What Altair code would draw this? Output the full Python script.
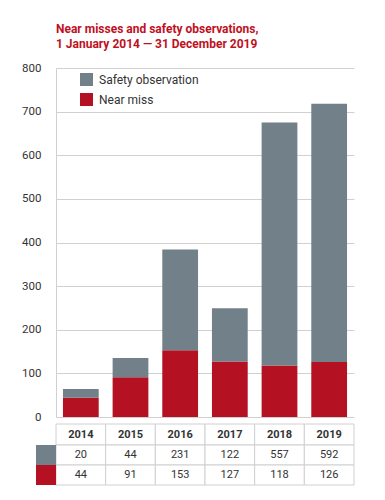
import altair as alt
import pandas as pd

years = ["2014", "2015", "2016", "2017", "2018", "2019"]
safety = [20, 44, 231, 122, 557, 592]
near = [44, 91, 153, 127, 118, 126]
series = ["Safety observation", "Near miss"]
y_ticks = [0, 100, 200, 300, 400, 500, 600, 700, 800]
title_lines = ["Near misses and safety observations,", "1 January 2014 \u2014 31 December 2019"]

GRAY = "#72808a"
RED = "#b41222"
TITLE_RED = "#c0101e"
LINE = "#d0d0d0"
FONT = "Roboto"
W, H = 298, 349

long_rows = []
for y, s, n in zip(years, safety, near):
    long_rows.append({"year": y, "series": "Near miss", "value": n, "ord": 0})
    long_rows.append({"year": y, "series": "Safety observation", "value": s, "ord": 1})
long_df = pd.DataFrame(long_rows)
wide_df = pd.DataFrame({"year": years, "safety": safety, "near": near})

xscale = alt.Scale(domain=years, paddingInner=0, paddingOuter=0)
x_enc = alt.X("year:N", scale=xscale, axis=None)

bars = alt.Chart(long_df).mark_bar(width=alt.RelativeBandSize(0.72)).encode(
    x=x_enc,
    y=alt.Y("value:Q", stack="zero",
            scale=alt.Scale(domain=[0, 800], nice=False),
            axis=alt.Axis(values=y_ticks, title=None, grid=True, gridColor=LINE,
                          domain=True, domainColor=LINE, ticks=False, tickSize=0,
                          labelPadding=15, labelFontSize=11.5, labelColor="#333",
                          labelFont=FONT)),
    color=alt.Color("series:N", scale=alt.Scale(domain=series, range=[GRAY, RED]),
                    legend=alt.Legend(orient="none", legendX=24, legendY=5, title=None,
                                      symbolType="square", symbolSize=169,
                                      symbolStrokeWidth=0, symbolOpacity=1,
                                      labelFontSize=12, labelColor="#333",
                                      labelFont=FONT, rowPadding=7, labelOffset=6,
                                      padding=0)),
    order=alt.Order("ord:Q"),
)

# table rows (pixel positions below the plot)
row_tops = [356, 377, 397]
row_bots = [377, 397, 417]

cells = []
for t, b in zip(row_tops, row_bots):
    cells.append(alt.Chart(wide_df).mark_rect(fill="white", stroke=LINE, strokeWidth=1).encode(
        x=x_enc, y=alt.value(t), y2=alt.value(b)))

hdr = alt.Chart(wide_df).mark_text(font=FONT, fontSize=11, fontWeight="bold", color="#333").encode(
    x=x_enc, y=alt.value((row_tops[0] + row_bots[0]) / 2), text="year:N")
r1 = alt.Chart(wide_df).mark_text(font=FONT, fontSize=11, color="#333").encode(
    x=x_enc, y=alt.value((row_tops[1] + row_bots[1]) / 2), text="safety:Q")
r2 = alt.Chart(wide_df).mark_text(font=FONT, fontSize=11, color="#333").encode(
    x=x_enc, y=alt.value((row_tops[2] + row_bots[2]) / 2), text="near:Q")

one = pd.DataFrame({"k": [0]})
sw1 = alt.Chart(one).mark_rect(color=GRAY).encode(
    x=alt.value(-20), x2=alt.value(0), y=alt.value(row_tops[1]), y2=alt.value(row_bots[1]))
sw2 = alt.Chart(one).mark_rect(color=RED).encode(
    x=alt.value(-20), x2=alt.value(0), y=alt.value(row_tops[2]), y2=alt.value(row_bots[2]))

chart = alt.layer(bars, *cells, hdr, r1, r2, sw1, sw2).properties(
    width=W, height=H,
    title=alt.Title(title_lines, anchor="start", frame="group", font=FONT, fontSize=12,
                    fontWeight="bold", color=TITLE_RED, lineHeight=15.5, offset=11),
    autosize=alt.AutoSizeParams(type="none"),
    padding={"left": 48, "top": 60, "right": 23, "bottom": 75},
).configure_view(stroke=None)

chart.save("out.html", embed_options={"renderer": "svg", "actions": False})
